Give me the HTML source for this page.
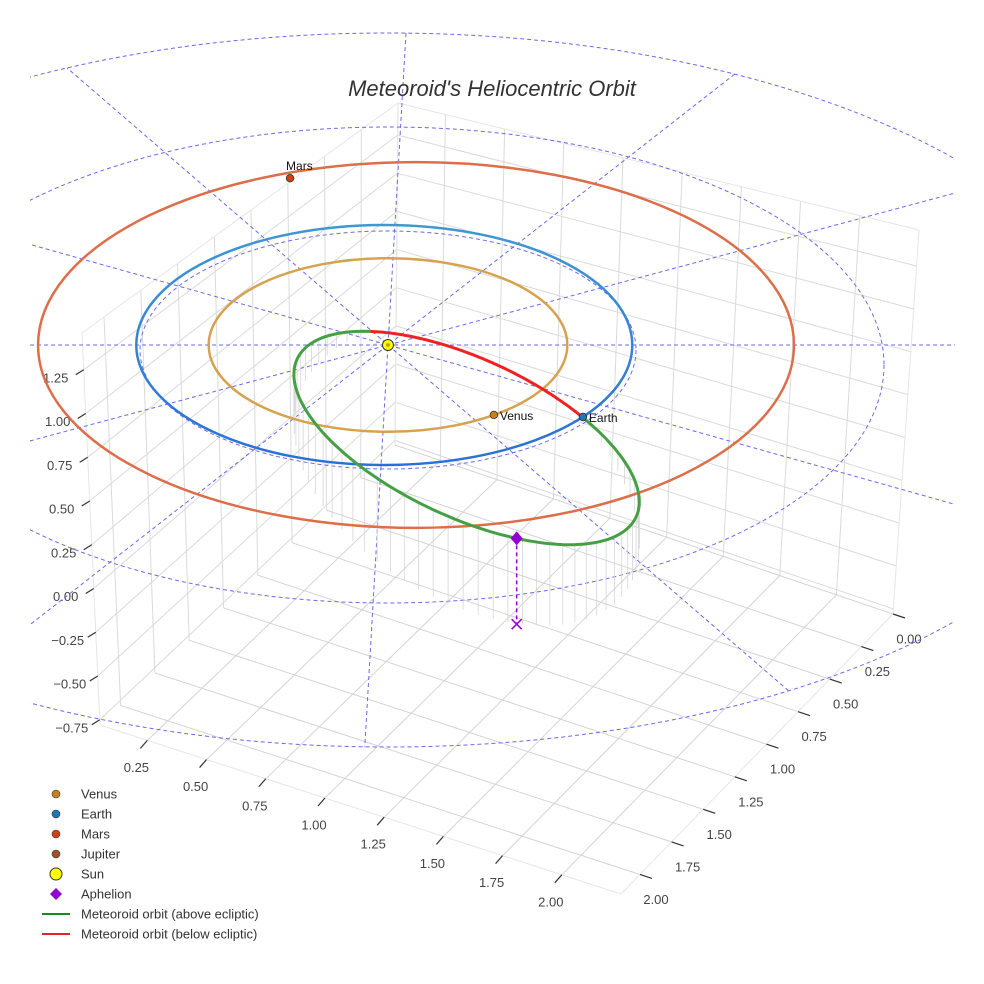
<!DOCTYPE html>
<html><head><meta charset="utf-8"><title>Meteoroid's Heliocentric Orbit</title>
<style>
html,body{margin:0;padding:0;background:#fff;}
svg{display:block;font-family:"Liberation Sans",sans-serif;}
</style></head>
<body>
<svg id="chart" width="984" height="984" viewBox="0 0 984 984" xmlns="http://www.w3.org/2000/svg">
  <defs>
    <clipPath id="skyClip"><rect x="30" y="0" width="925" height="984"/></clipPath>
    <linearGradient id="earthGrad" x1="0" y1="0" x2="0" y2="1">
      <stop offset="0" stop-color="#3f98d0"/><stop offset="1" stop-color="#2a6fd6"/>
    </linearGradient>
  </defs>
  <rect x="0" y="0" width="984" height="984" fill="#fff"/>
  <g id="grid"></g>
  <g id="ticks"></g>
  <g id="sky" clip-path="url(#skyClip)"></g>
  <g id="drops"></g>
  <g id="orbits"></g>
  <g id="marks"></g>
  <text x="492" y="96" text-anchor="middle" font-size="22" font-style="italic" fill="#333">Meteoroid's Heliocentric Orbit</text>
  <g id="legend"></g>
</svg>
<script>
// ---- axis tick data ----
const xTicks = [0.25, 0.5, 0.75, 1.0, 1.25, 1.5, 1.75, 2.0];
const xTickLabels = ["0.25","0.50","0.75","1.00","1.25","1.50","1.75","2.00"];
const yTicks = [0, 0.25, 0.5, 0.75, 1.0, 1.25, 1.5, 1.75, 2.0];
const yTickLabels = ["0.00","0.25","0.50","0.75","1.00","1.25","1.50","1.75","2.00"];
const zTicks = [-0.75, -0.5, -0.25, 0, 0.25, 0.5, 0.75, 1.0, 1.25];
const zTickLabels = ["\u22120.75","\u22120.50","\u22120.25","0.00","0.25","0.50","0.75","1.00","1.25"];
const xRange = [0.05, 2.25];
const yRange = [0, 2.15];
const zRange = [-0.78, 1.46];

// ---- planet data (AU, ecliptic) ----
const planetNames = ["Venus", "Earth", "Mars"];
const planetOrbitA = [0.723, 1.0, 1.524];
const planetOrbitShift = [0.0, -0.015, 0.113];
const planetX = [0.427, 0.786, -0.395];
const planetY = [0.583, 0.6, -1.39];
const planetOrbitColors = ["#d6a24e", "url(#earthGrad)", "#dd6e4a"];
const planetColors = ["#c8801a", "#1f77b4", "#cc4414"];

// ---- meteoroid orbit data ----
const meteorCenter = [0.317, 0.375];
const meteorAxes = [0.754, 0.319];
const meteorTiltDeg = [25];
const meteorNodesDeg = [-135, -59];
const aphelionDeg = [62];
const aphelionDepth = [0.49];
const dropMax = [0.5];

// ---- celestial grid data ----
const sphereRadii = [1, 2, 3];
const meridianAnglesDeg = [40.8, -86.7, -38, -15, 0, 15.7];

// ---- legend data ----
const legendLabels = ["Venus","Earth","Mars","Jupiter","Sun","Aphelion","Meteoroid orbit (above ecliptic)","Meteoroid orbit (below ecliptic)"];
const legendColors = ["#c8801a","#1f77b4","#cc4414","#a0522d","#ffff00","#9400d3","#1a8c1a","#e8202a"];
const legendKinds = ["dot","dot","dot","dot","sun","diamond","line","line"];

const NS = "http://www.w3.org/2000/svg";
function mk(tag, attrs, parent){const e=document.createElementNS(NS,tag);for(const k in attrs)e.setAttribute(k,attrs[k]);parent.appendChild(e);return e;}

const FQ = {B:[395,445], R:[893,614], L:[100,725], F:[621,894]};
const TQ = {B:[398,103], R:[919,230], L:[82,333], F:[634,470]};
function bil(q,u,v,i){return q.B[i]*(1-u)*(1-v)+q.R[i]*u*(1-v)+q.L[i]*(1-u)*v+q.F[i]*u*v;}
function P(x,y,z){
  const u=(x-xRange[0])/(xRange[1]-xRange[0]);
  const v=(y-yRange[0])/(yRange[1]-yRange[0]);
  const w=(z-zRange[0])/(zRange[1]-zRange[0]);
  const fx=bil(FQ,u,v,0), fy=bil(FQ,u,v,1), tx=bil(TQ,u,v,0), ty=bil(TQ,u,v,1);
  return [fx+(tx-fx)*w, fy+(ty-fy)*w];
}
const SX=388, SY=345, KX=248, KY=120;
function ex(x){return SX+KX*x;}
function ey(y){return SY+KY*y;}

const grid=document.getElementById('grid');
function gline(a,b,col,name){
  const l=mk('line',{x1:a[0].toFixed(1),y1:a[1].toFixed(1),x2:b[0].toFixed(1),y2:b[1].toFixed(1),stroke:col,'stroke-width':1},grid);
  
  
}
const [X0,X1]=xRange,[Y0,Y1]=yRange,[Z0,Z1]=zRange;
xTicks.forEach(t=>{gline(P(t,Y0,Z0),P(t,Y1,Z0),'#d4d4d4','floor-gridline-x');gline(P(t,Y0,Z0),P(t,Y0,Z1),'#dadada','wall-gridline-x');});
yTicks.forEach(t=>{gline(P(X0,t,Z0),P(X1,t,Z0),'#d4d4d4','floor-gridline-y');gline(P(X0,t,Z0),P(X0,t,Z1),'#dadada','wall-gridline-y');});
zTicks.forEach(t=>{gline(P(X0,Y0,t),P(X1,Y0,t),'#dadada','wall-gridline-z');gline(P(X0,Y0,t),P(X0,Y1,t),'#dadada','wall-gridline-z');});
[[P(X0,Y1,Z0),P(X1,Y1,Z0)],[P(X1,Y0,Z0),P(X1,Y1,Z0)],[P(X0,Y1,Z0),P(X0,Y1,Z1)],[P(X1,Y0,Z0),P(X1,Y0,Z1)],[P(X0,Y0,Z1),P(X1,Y0,Z1)],[P(X0,Y0,Z1),P(X0,Y1,Z1)],[P(X0,Y0,Z0),P(X0,Y0,Z1)]].forEach(s=>gline(s[0],s[1],'#e6e6e6','box-edge'));

const tk=document.getElementById('ticks');
function tick(p,d,lo,label,name,anchor){
  const l=mk('line',{x1:p[0],y1:p[1],x2:p[0]+d[0],y2:p[1]+d[1],stroke:'#333','stroke-width':1.2},tk);
  
  
  const t=mk('text',{x:(p[0]+lo[0]).toFixed(1),y:(p[1]+lo[1]+4.5).toFixed(1),'text-anchor':anchor,'font-size':13,fill:'#444'},tk);
  t.textContent=label;
  
  
}
xTicks.forEach((t,i)=>tick(P(t,Y1,Z0),[-7,8],[-11,27],xTickLabels[i],'x-axis','middle'));
yTicks.forEach((t,i)=>tick(P(X1,t,Z0),[12,4],[16,25],yTickLabels[i],'y-axis','middle'));
zTicks.forEach((t,i)=>tick(P(X0,Y1,t),[-8,5],[-28,8],zTickLabels[i],'z-axis','middle'));

const sky=document.getElementById('sky');
const skyCol='#6a6ae8';
function skyCy(r){return SY+5*r*r;}
sphereRadii.forEach(r=>{
  const e=mk('ellipse',{cx:SX,cy:skyCy(r),rx:KX*r,ry:119*r,fill:'none',stroke:skyCol,'stroke-width':1,'stroke-dasharray':'4 3'},sky);
  
  
});
const rOut=sphereRadii[sphereRadii.length-1];
const oRx=KX*rOut, oRy=119*rOut, oCy=skyCy(rOut);
function rayEnd(dx,dy){
  let lo=0,hi=2000;
  for(let k=0;k<50;k++){const m=(lo+hi)/2;const px=SX+dx*m,py=SY+dy*m;
    const q=((px-SX)/oRx)**2+((py-oCy)/oRy)**2; if(q<1)lo=m;else hi=m;}
  return [SX+dx*lo,SY+dy*lo];
}
meridianAnglesDeg.forEach(a=>{
  const r=a*Math.PI/180, dx=Math.cos(r), dy=Math.sin(r);
  const p1=rayEnd(dx,dy), p2=rayEnd(-dx,-dy);
  const l=mk('line',{x1:p1[0].toFixed(1),y1:p1[1].toFixed(1),x2:p2[0].toFixed(1),y2:p2[1].toFixed(1),stroke:skyCol,'stroke-width':1,'stroke-dasharray':'4 3'},sky);
  
  
});

const orb=document.getElementById('orbits');
planetNames.forEach((n,i)=>{
  const e=mk('ellipse',{cx:ex(planetOrbitShift[i]),cy:SY,rx:KX*planetOrbitA[i],ry:KY*planetOrbitA[i],fill:'none',stroke:planetOrbitColors[i],'stroke-width':2.5},orb);
  
  
});

const th=meteorTiltDeg[0]*Math.PI/180;
function mpt(deg){
  const T=deg*Math.PI/180, a=meteorAxes[0], b=meteorAxes[1];
  const x=meteorCenter[0]+a*Math.cos(T)*Math.cos(th)-b*Math.sin(T)*Math.sin(th);
  const y=meteorCenter[1]+a*Math.cos(T)*Math.sin(th)+b*Math.sin(T)*Math.cos(th);
  return [SX+KX*x, SY+KX*y];
}
function arc(d0,d1){let s='';const n=120;for(let k=0;k<=n;k++){const p=mpt(d0+(d1-d0)*k/n);s+=(k?'L':'M')+p[0].toFixed(1)+' '+p[1].toFixed(1);}return s;}
const n0=meteorNodesDeg[0], n1=meteorNodesDeg[1];
const drops=document.getElementById('drops');
const span=(n0+360)-n1;
for(let d=n1+4; d<n0+360-2; d+=5){
  const s=(d-n1)/span, h=dropMax[0]*Math.sin(Math.PI*s)*175;
  const p=mpt(d);
  const l=mk('line',{x1:p[0].toFixed(1),y1:p[1].toFixed(1),x2:p[0].toFixed(1),y2:(p[1]+h).toFixed(1),stroke:'#d6d6d6','stroke-width':0.8},drops);
  
  
}
const g=mk('path',{d:arc(n1,n0+360),fill:'none',stroke:'#45a045','stroke-width':3},orb);


const rd=mk('path',{d:arc(n0,n1),fill:'none',stroke:'#ee2222','stroke-width':3},orb);



const mk2=document.getElementById('marks');
planetNames.forEach((n,i)=>{
  const cx=ex(planetX[i]), cy=ey(planetY[i]);
  const c=mk('circle',{cx:cx,cy:cy,r:3.8,fill:planetColors[i],stroke:'#333','stroke-width':0.8},mk2);
  
  
  const t=mk('text',{'font-size':12,fill:'#111'},mk2);
  if(n==='Mars'){t.setAttribute('x',cx-4);t.setAttribute('y',cy-8);}
  else{t.setAttribute('x',cx+6);t.setAttribute('y',cy+5);}
  t.textContent=n;
  
  
});
const sun=mk('circle',{cx:SX,cy:SY,r:5.5,fill:'#ffff00',stroke:'#333','stroke-width':1},mk2);


const sunCore=mk('circle',{cx:SX,cy:SY,r:2,fill:'#caa800'},mk2);


const ap=mpt(aphelionDeg[0]);
const apDrop=aphelionDepth[0]*175;
const apl=mk('line',{x1:ap[0],y1:ap[1],x2:ap[0],y2:ap[1]+apDrop,stroke:'#9400d3','stroke-width':1.5,'stroke-dasharray':'4 3'},mk2);


const ax=ap[0], ay=ap[1]+apDrop;
const apx=mk('path',{d:`M${ax-5} ${ay-5}L${ax+5} ${ay+5}M${ax-5} ${ay+5}L${ax+5} ${ay-5}`,stroke:'#9400d3','stroke-width':1.5,fill:'none'},mk2);


const apd=mk('path',{d:`M${ap[0]} ${ap[1]-7}L${ap[0]+6} ${ap[1]}L${ap[0]} ${ap[1]+7}L${ap[0]-6} ${ap[1]}Z`,fill:'#9400d3'},mk2);



const lg=document.getElementById('legend');
legendLabels.forEach((lab,i)=>{
  const y=794+i*20, x=56;
  const item=mk('g',{},lg);
  
  
  const k=legendKinds[i];
  if(k==='dot') mk('circle',{cx:x,cy:y,r:4,fill:legendColors[i],stroke:'#333','stroke-width':0.6},item);
  else if(k==='sun') mk('circle',{cx:x,cy:y,r:6,fill:legendColors[i],stroke:'#333','stroke-width':1},item);
  else if(k==='diamond') mk('path',{d:`M${x} ${y-6}L${x+6} ${y}L${x} ${y+6}L${x-6} ${y}Z`,fill:legendColors[i]},item);
  else mk('line',{x1:42,y1:y,x2:70,y2:y,stroke:legendColors[i],'stroke-width':2},item);
  const t=mk('text',{x:81,y:y+4.5,'font-size':13,fill:'#333'},item);
  t.textContent=lab;
});
</script>
</body></html>
